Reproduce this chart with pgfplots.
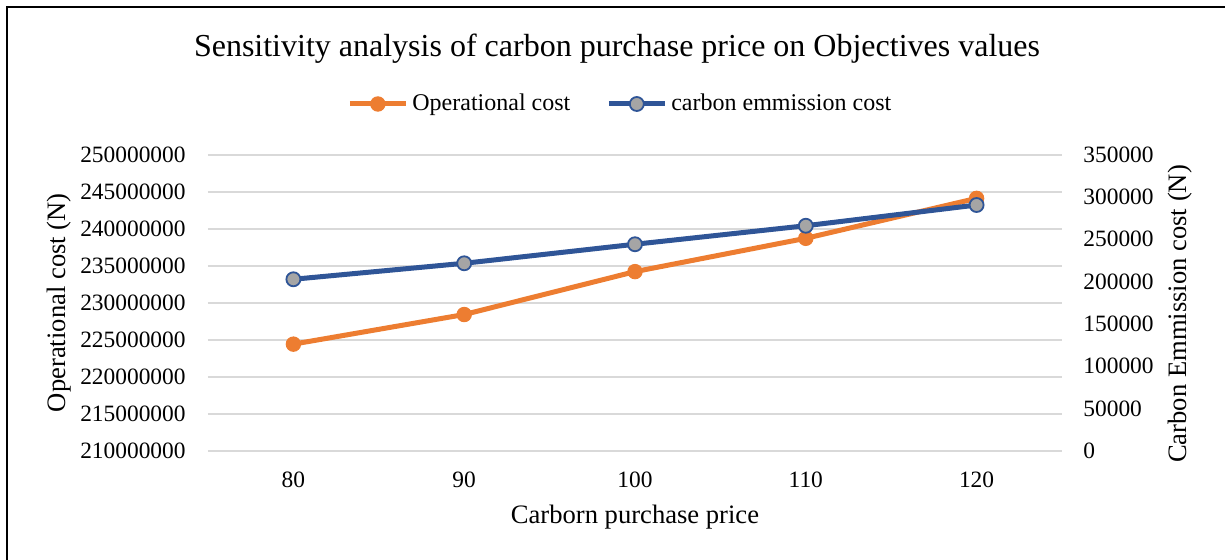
\documentclass[border=0pt]{standalone}
\usepackage{fontspec}
\setmainfont{Liberation Serif}
\usepackage{pgfplots}
\pgfplotsset{compat=1.18}
\definecolor{orangeS}{HTML}{ED7D31}
\definecolor{blueS}{HTML}{2F5597}
\definecolor{grayM}{HTML}{A5A5A5}
\definecolor{gridC}{HTML}{D9D9D9}
\newcommand\tickfont{\fontsize{11.7}{14}\selectfont}
\newcommand\labfont{\fontsize{13.3}{16}\selectfont}
\begin{document}
\begin{tikzpicture}
\path[use as bounding box] (-104pt,-54.65pt) rectangle (508.5pt,225.35pt);
\pgfplotsset{
  base/.style={scale only axis, width=427pt, height=148pt, at={(0pt,0pt)}, anchor=south west,
    xmin=75, xmax=125, xtick={80,90,100,110,120},
    axis line style={draw=none}, major tick length=0pt, tick style={draw=none},
    clip=false, scaled y ticks=false, scaled x ticks=false},
  orangeLine/.style={orangeS, line width=2.5pt, mark=*, mark size=3.6pt,
    mark options={fill=orangeS, draw=orangeS, line width=0.5pt}},
  blueLine/.style={blueS, line width=2.5pt, mark=*, mark size=3.5pt,
    mark options={fill=grayM, draw=blueS, line width=0.9pt}},
}
\begin{axis}[base,
  ymin=210000000, ymax=250000000,
  ytick={210000000,215000000,220000000,225000000,230000000,235000000,240000000,245000000,250000000},
  yticklabels={210000000,215000000,220000000,225000000,230000000,235000000,240000000,245000000,250000000},
  xticklabels={80,90,100,110,120},
  ymajorgrids, major grid style={gridC, line width=0.85pt},
  xticklabel style={font=\tickfont, anchor=center, yshift=-14.65pt, inner sep=0pt},
  yticklabel style={font=\tickfont, anchor=east, xshift=-11pt, inner sep=0pt},
  xlabel={Carborn purchase price},
  every axis x label/.style={at={(axis description cs:0.5,-0.224)}, anchor=center, font=\labfont},
  ylabel={Operational cost (N)},
  every axis y label/.style={at={(axis description cs:-0.1745,0.5)}, rotate=90, anchor=center, font=\labfont},
]
\addplot[orangeLine] coordinates {(80,224400000) (90,228400000) (100,234200000) (110,238700000) (120,244100000)};
\end{axis}
\begin{axis}[base,
  axis x line=none, axis y line*=right,
  ymin=0, ymax=350000,
  ytick={0,50000,100000,150000,200000,250000,300000,350000},
  yticklabels={0,50000,100000,150000,200000,250000,300000,350000},
  yticklabel style={font=\tickfont, anchor=west, xshift=10.5pt, inner sep=0pt},
  ylabel={Carbon Emmission cost (N)},
  every axis y label/.style={at={(axis description cs:1.138,0.462)}, rotate=90, anchor=center, font=\labfont},
  legend style={at={(axis description cs:0.4840,1.1713)}, anchor=center, draw=none, fill=none,
    font=\fontsize{12}{14}\selectfont, /tikz/every even column/.append style={column sep=16pt}},
  legend columns=2, legend cell align=left,
  legend image code/.code={\draw[#1, mark repeat=2, mark phase=2] plot coordinates {(0pt,0pt) (14pt,0pt) (28pt,0pt)};},
]
\addlegendimage{orangeLine}
\addlegendentry{Operational cost}
\addplot[blueLine] coordinates {(80,202700) (90,221600) (100,244100) (110,266000) (120,290500)};
\addlegendentry{carbon emmission cost}
\end{axis}
\node[font=\fontsize{16}{19}\selectfont, anchor=center] at (204.5pt,200.85pt) {Sensitivity analysis of carbon purchase price on Objectives values};
\draw[black, line width=1pt] (-100.5pt,-70pt) -- (-100.5pt,221.85pt) -- (520pt,221.85pt);
\end{tikzpicture}
\end{document}
